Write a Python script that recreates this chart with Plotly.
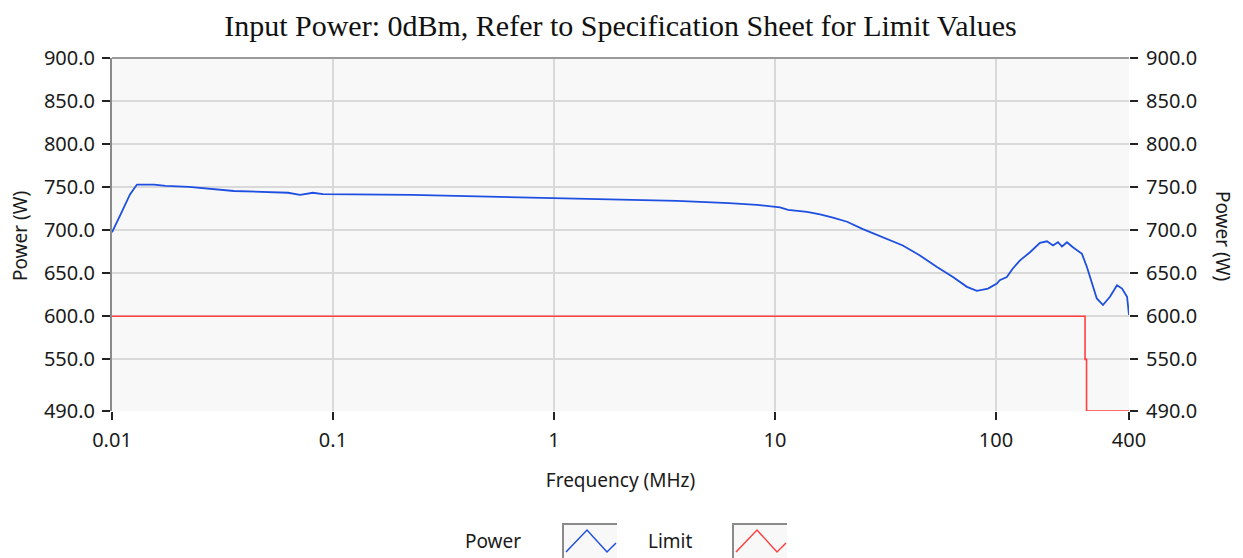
import plotly.graph_objects as go

# ---- data ----
power_freq_mhz = [0.01, 0.0105, 0.01098, 0.01206, 0.01297, 0.01549, 0.0175, 0.02229, 0.02747,
                  0.03564, 0.06255, 0.07093, 0.08121, 0.09, 0.2276, 0.619, 1.6, 3.606, 6.197,
                  8.29, 10.54, 11.46, 13.96, 16.0, 18.3, 21.2, 25.0, 30.8, 37.9, 45.3, 54.1,
                  63.9, 73.9, 82.0, 92.0, 101, 104, 112, 119, 128.5, 142.6, 158.2, 170.2,
                  181.2, 190.8, 199, 209.6, 223, 245, 258, 272, 286, 305, 328, 353, 372, 392, 400]
power_w = [697.5, 708, 719.3, 741.5, 753.0, 753.0, 751.5, 750.4, 748.1,
           745.5, 743.5, 741.0, 743.5, 742.0, 741.0, 738.5, 736.5, 734.0, 731.5,
           729.5, 726.5, 723.6, 721.3, 718.5, 714.7, 709.8, 701.3, 691.7, 682.2, 670.7, 657.2,
           645.7, 634.2, 629.6, 632.2, 638.0, 641.9, 645.7, 655.2, 664.9, 674.4, 685.2, 687.1,
           682.2, 686.0, 681.0, 686.0, 680.2, 672.5, 657.2, 638.0, 620.7, 613.1, 622.7, 636.1, 632.2, 622.7, 601.6]

limit_freq_mhz = [0.01, 253, 257, 400]
limit_w = [600, 550, 490, 490]

x_tickvals = [0.01, 0.1, 1, 10, 100, 400]
x_ticktext = ["0.01", "0.1", "1", "10", "100", "400"]
y_tickvals = [490, 550, 600, 650, 700, 750, 800, 850, 900]
y_ticktext = ["490.0", "550.0", "600.0", "650.0", "700.0", "750.0", "800.0", "850.0", "900.0"]

title_text = "Input Power: 0dBm, Refer to Specification Sheet for Limit Values"
x_title = "Frequency (MHz)"
y_title = "Power (W)"
legend_names = ["Power", "Limit"]
power_color = "#1f4fe0"
limit_color = "#ff4040"

# ---- layout geometry (page pixels); the page body adds an 8px offset ----
W, H = 1243, 558
OX, OY = 8, 8
FW, FH = W - OX, H - OY
L, R, T, B = 112, 1129, 58, 411


def px2x(px):
    return (px - L) / (R - L)


def py2y(py):
    return (B - py) / (B - T)


fig = go.Figure()
fig.add_trace(go.Scatter(x=power_freq_mhz, y=power_w, mode="lines", name=legend_names[0],
                         line=dict(color=power_color, width=1.8), showlegend=False))
fig.add_trace(go.Scatter(x=limit_freq_mhz, y=limit_w, mode="lines", name=legend_names[1],
                         line=dict(color=limit_color, width=1.6, shape="hv"),
                         showlegend=False, yaxis="y2"))

tick_font = dict(family="Noto Sans", size=20, color="#1a1a1a")
label_font = dict(family="Noto Sans", size=19, color="#1a1a1a")
yr = [490, 900]

fig.update_layout(
    width=FW, height=FH,
    margin=dict(l=L - OX, r=FW - (R - OX), t=T - OY, b=FH - (B - OY)),
    paper_bgcolor="white",
    plot_bgcolor="#f8f8f8",
    title=dict(text=title_text, x=0.5, xref="paper", y=1 - (25 - OY) / FH, yanchor="middle",
               font=dict(family="Liberation Serif", size=30, color="#111")),
    xaxis=dict(type="log", range=[-2, 2.60206], tickvals=x_tickvals, ticktext=x_ticktext,
               showgrid=True, gridcolor="#d9d9d9", gridwidth=2,
               ticks="outside", ticklen=8, tickwidth=2, tickcolor="#222",
               ticklabelstandoff=3,
               showline=False, zeroline=False, tickfont=tick_font,
               title=dict(text=x_title, font=label_font, standoff=21)),
    yaxis=dict(range=yr, tickvals=y_tickvals, ticktext=y_ticktext,
               showgrid=True, gridcolor="#d9d9d9", gridwidth=2,
               ticks="outside", ticklen=8, tickwidth=2, tickcolor="#222",
               ticklabelstandoff=3,
               showline=True, linecolor="#8a8a8a", linewidth=2,
               zeroline=False, tickfont=tick_font),
    yaxis2=dict(range=yr, tickvals=y_tickvals, ticktext=y_ticktext, overlaying="y", side="right",
                showgrid=False, ticks="outside", ticklen=8, tickwidth=2, tickcolor="#222",
                ticklabelstandoff=4,
                showline=False, zeroline=False, tickfont=tick_font),
)

# axis titles (left reads bottom-to-top, right reads top-to-bottom)
fig.add_annotation(text=y_title, xref="paper", yref="paper", x=px2x(20), y=py2y(236),
                   xanchor="center", yanchor="middle", textangle=-90, showarrow=False,
                   font=label_font)
fig.add_annotation(text=y_title, xref="paper", yref="paper", x=px2x(1223), y=py2y(236),
                   xanchor="center", yanchor="middle", textangle=90, showarrow=False,
                   font=label_font)

# top border
fig.add_shape(type="line", xref="paper", yref="paper", x0=0, x1=1, y0=1, y1=1,
              line=dict(color="#9a9a9a", width=2))

# custom legend (label then boxed zigzag swatch)
legend_items = [
    (legend_names[0], 493, 563, power_color),
    (legend_names[1], 670, 733, limit_color),
]
for name, tx, bx, col in legend_items:
    fig.add_annotation(text=name, xref="paper", yref="paper", x=px2x(tx), y=py2y(541),
                       showarrow=False, xanchor="center", yanchor="middle",
                       font=label_font)
    fig.add_shape(type="rect", xref="paper", yref="paper",
                  x0=px2x(bx), x1=px2x(bx + 54), y0=py2y(562), y1=py2y(524),
                  fillcolor="#f8f8f8", line=dict(width=0), layer="below")
    fig.add_shape(type="path", xref="paper", yref="paper",
                  path="M {a},{b} L {c},{d} L {e},{f}".format(
                      a=px2x(bx), b=py2y(562), c=px2x(bx), d=py2y(524),
                      e=px2x(bx + 54), f=py2y(524)),
                  line=dict(color="#8a8a8a", width=2))
    zz = [(bx + 3, 552), (bx + 24, 530), (bx + 44, 552), (bx + 53, 543)]
    path = "M " + " L ".join("{},{}".format(px2x(a), py2y(b)) for a, b in zz)
    fig.add_shape(type="path", xref="paper", yref="paper", path=path,
                  line=dict(color=col, width=1.5))

fig.write_html("out.html")
